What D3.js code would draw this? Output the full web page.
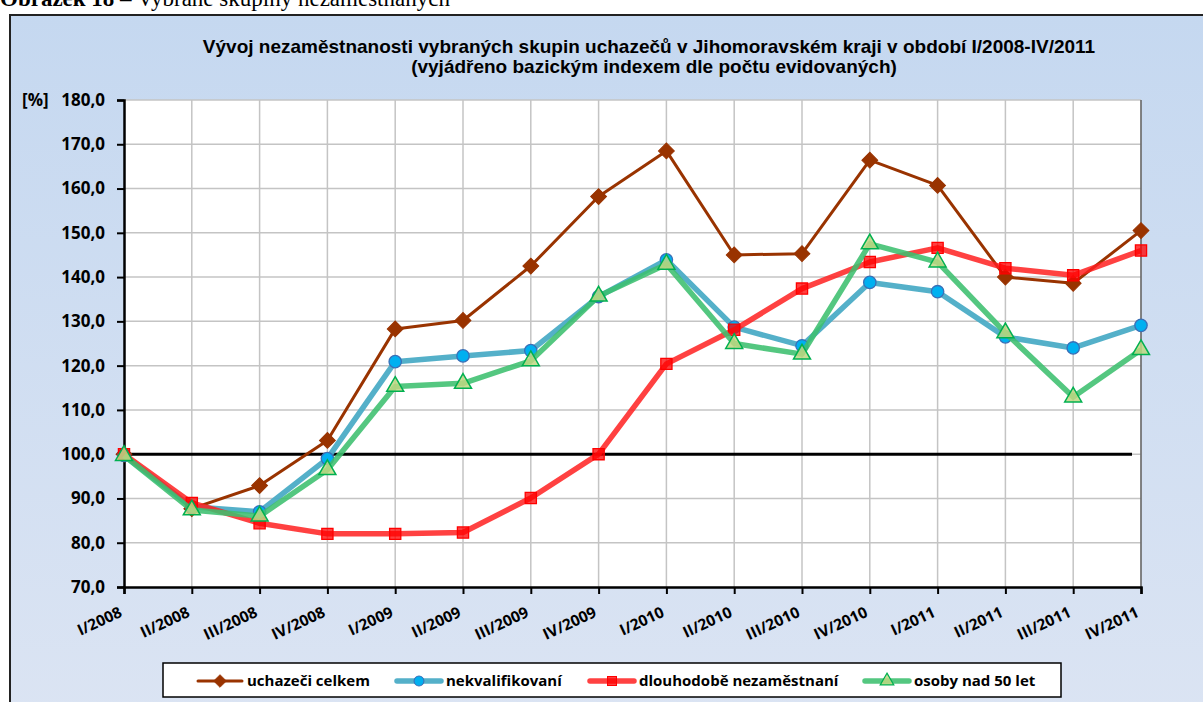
<!DOCTYPE html>
<html>
<head>
<meta charset="utf-8">
<script src="https://cdn.jsdelivr.net/npm/d3@7"></script>
<style>
  body { margin: 0; background: #fff; }
  svg { display: block; }
</style>
</head>
<body>
<div id="chart"></div>
<script>
// quarters on the x axis
const quarters = ["I/2008", "II/2008", "III/2008", "IV/2008",
  "I/2009", "II/2009", "III/2009", "IV/2009",
  "I/2010", "II/2010", "III/2010", "IV/2010",
  "I/2011", "II/2011", "III/2011", "IV/2011"];

// base index values [%]
const uchazeciCelkem = [100.0, 87.7, 92.9, 103.1, 128.3, 130.2, 142.5, 158.2, 168.5, 145.0, 145.3, 166.4, 160.7, 140.0, 138.6, 150.5];
const nekvalifikovani = [99.7, 88.1, 87.0, 99.0, 120.9, 122.2, 123.4, 135.6, 143.9, 128.7, 124.5, 138.8, 136.7, 126.5, 124.0, 129.1];
const dlouhodobe = [100.0, 89.0, 84.4, 82.0, 82.0, 82.3, 90.1, 100.0, 120.4, 128.1, 137.4, 143.4, 146.6, 142.0, 140.4, 146.0];
const nad50 = [99.7, 87.4, 86.0, 96.5, 115.3, 116.0, 121.1, 135.7, 142.9, 125.0, 122.6, 147.5, 143.4, 127.4, 112.9, 123.6];

const yTicks = [70, 80, 90, 100, 110, 120, 130, 140, 150, 160, 170, 180];
const baseLevel = 100;

const svgW = 1203, svgH = 702;
const plotL = 124, plotR = 1141, plotT = 100, plotB = 587;

const svg = d3.select("#chart").append("svg")
  .attr("width", svgW)
  .attr("height", svgH)
  .style("font-family", "'Liberation Sans', Arial, sans-serif");

// background gradient of the chart area
const grad = svg.append("defs").append("linearGradient")
  .attr("id", "bg").attr("x1", 0).attr("y1", 0).attr("x2", 0).attr("y2", 1);
grad.append("stop").attr("offset", "0%").attr("stop-color", "#c5d8f0");
grad.append("stop").attr("offset", "100%").attr("stop-color", "#dbe4f3");

// figure caption, cut at the top like in the source page
const cap = svg.append("text")
  .attr("x", 0).attr("y", 6)
  .style("font-family", "'Liberation Serif', 'Times New Roman', serif")
  .style("font-size", "23px");
cap.append("tspan").style("font-weight", "bold").text("Obrázek 18");
cap.append("tspan").text(" \u2013   Vybrané skupiny nezaměstnaných");

svg.append("rect")
  .attr("x", 10).attr("y", 15)
  .attr("width", svgW).attr("height", svgH)
  .attr("fill", "url(#bg)")
  .attr("stroke", "#222").attr("stroke-width", 2);

// title
svg.append("text")
  .attr("x", 649).attr("y", 53)
  .attr("text-anchor", "middle")
  .style("font-weight", "bold").style("font-size", "19px")
  .text("Vývoj nezaměstnanosti vybraných skupin uchazečů v Jihomoravském kraji  v období I/2008-IV/2011");
svg.append("text")
  .attr("x", 654).attr("y", 73)
  .attr("text-anchor", "middle")
  .style("font-weight", "bold").style("font-size", "19px")
  .text("(vyjádřeno bazickým indexem dle počtu evidovaných)");

const x = d3.scalePoint().domain(quarters).range([plotL, plotR]);
const y = d3.scaleLinear().domain([70, 180]).range([plotB, plotT]);

// plot area
svg.append("rect")
  .attr("x", plotL).attr("y", plotT)
  .attr("width", plotR - plotL).attr("height", plotB - plotT)
  .attr("fill", "#fff");

// grid
svg.append("g").selectAll("line")
  .data(yTicks.slice(1))
  .join("line")
  .attr("x1", plotL).attr("x2", plotR)
  .attr("y1", d => y(d)).attr("y2", d => y(d))
  .attr("stroke", "#c4c4c4").attr("stroke-width", 1.5);
svg.append("g").selectAll("line")
  .data(quarters.slice(1))
  .join("line")
  .attr("x1", d => x(d)).attr("x2", d => x(d))
  .attr("y1", plotT).attr("y2", plotB)
  .attr("stroke", "#c4c4c4").attr("stroke-width", 1.5);
svg.append("line")
  .attr("x1", plotR).attr("x2", plotR)
  .attr("y1", plotT).attr("y2", plotB)
  .attr("stroke", "#333").attr("stroke-width", 1);

// axes
const yAxis = d3.axisLeft(y).tickValues(yTicks).tickSize(7).tickPadding(12)
  .tickFormat(d => d3.format(".1f")(d).replace(".", ","));
const gy = svg.append("g").attr("transform", `translate(${plotL},0)`).call(yAxis);
gy.select(".domain").attr("stroke", "#000").attr("stroke-width", 2.5);
gy.selectAll(".tick line").attr("stroke", "#000").attr("stroke-width", 2);
gy.selectAll(".tick text")
  .style("font-family", "'Open Sans', sans-serif")
  .style("font-weight", "bold").style("font-size", "17px").attr("fill", "#000");

svg.append("text")
  .attr("x", 22).attr("y", y(180)).attr("dy", "0.35em")
  .style("font-family", "'Open Sans', sans-serif")
  .style("font-weight", "bold").style("font-size", "17px")
  .text("[%]");

const xAxis = d3.axisBottom(x).tickSize(7).tickFormat("");
const gx = svg.append("g").attr("transform", `translate(0,${plotB})`).call(xAxis);
gx.select(".domain").attr("stroke", "#000").attr("stroke-width", 2.5);
gx.selectAll(".tick line").attr("stroke", "#000").attr("stroke-width", 2);

svg.append("g").selectAll("text")
  .data(quarters)
  .join("text")
  .attr("transform", d => `translate(${x(d) - 1},${plotB + 29}) rotate(-25)`)
  .attr("text-anchor", "end")
  .style("font-family", "'Open Sans', sans-serif")
  .style("font-weight", "bold").style("font-size", "15.5px")
  .text(d => d);

// base line at 100 %
svg.append("line")
  .attr("x1", x(quarters[0])).attr("x2", x(quarters[quarters.length - 1]) - 9)
  .attr("y1", y(baseLevel)).attr("y2", y(baseLevel))
  .attr("stroke", "#000").attr("stroke-width", 3);

const diamond = d3.symbol().type(d3.symbolSquare).size(125);
const circle = d3.symbol().type(d3.symbolCircle).size(120);
const square = d3.symbol().type(d3.symbolSquare).size(125);
const triangle = d3.symbol().type(d3.symbolTriangle).size(125);

const series = [
  { name: "uchazeči celkem", values: uchazeciCelkem, color: "#993300", width: 3, opacity: 1,
    sym: diamond, rot: 45, fill: "#993300", stroke: "#993300", sw: 1 },
  { name: "nekvalifikovaní", values: nekvalifikovani, color: "#4bacc6", width: 5.5, opacity: 0.95,
    sym: circle, rot: 0, fill: "#00b0f0", stroke: "#3a6fb7", sw: 1.3 },
  { name: "dlouhodobě nezaměstnaní", values: dlouhodobe, color: "#ff2020", width: 5.5, opacity: 0.85,
    sym: square, rot: 0, fill: "rgba(255,0,0,0.75)", stroke: "#ff0000", sw: 1.3 },
  { name: "osoby nad 50 let", values: nad50, color: "#3cbf6e", width: 5.5, opacity: 0.88,
    sym: triangle, rot: 0, fill: "rgba(190,215,130,0.85)", stroke: "#00b050", sw: 1.5 }
];

const line = d3.line().x((d, i) => x(quarters[i])).y(d => y(d));

series.forEach(s => {
  const g = svg.append("g");
  g.append("path")
    .datum(s.values)
    .attr("fill", "none")
    .attr("stroke", s.color)
    .attr("stroke-width", s.width)
    .attr("stroke-opacity", s.opacity)
    .attr("stroke-linejoin", "round")
    .attr("d", line);
  g.selectAll("path.m")
    .data(s.values)
    .join("path")
    .attr("class", "m")
    .attr("transform", (d, i) => `translate(${x(quarters[i])},${y(d)}) rotate(${s.rot})`)
    .attr("d", s.sym())
    .attr("fill", s.fill)
    .attr("stroke", s.stroke)
    .attr("stroke-width", s.sw);
});

// legend
svg.append("rect")
  .attr("x", 163).attr("y", 663)
  .attr("width", 898).attr("height", 34)
  .attr("fill", "#fff").attr("stroke", "#000").attr("stroke-width", 1.5);

const legendX = [198, 397, 590, 865];
series.forEach((s, i) => {
  const g = svg.append("g").attr("transform", `translate(${legendX[i]},681)`);
  g.append("line")
    .attr("x1", 0).attr("x2", 44)
    .attr("stroke", s.color).attr("stroke-width", s.width)
    .attr("stroke-opacity", s.opacity).attr("stroke-linecap", "round");
  g.append("path")
    .attr("transform", `translate(22,0) rotate(${s.rot}) scale(0.8)`)
    .attr("d", s.sym())
    .attr("fill", s.fill).attr("stroke", s.stroke).attr("stroke-width", s.sw);
  g.append("text")
    .attr("x", 49).attr("dy", "0.35em")
    .style("font-family", "'Open Sans', sans-serif")
    .style("font-weight", "bold").style("font-size", "15px")
    .text(s.name);
});
</script>
</body>
</html>
